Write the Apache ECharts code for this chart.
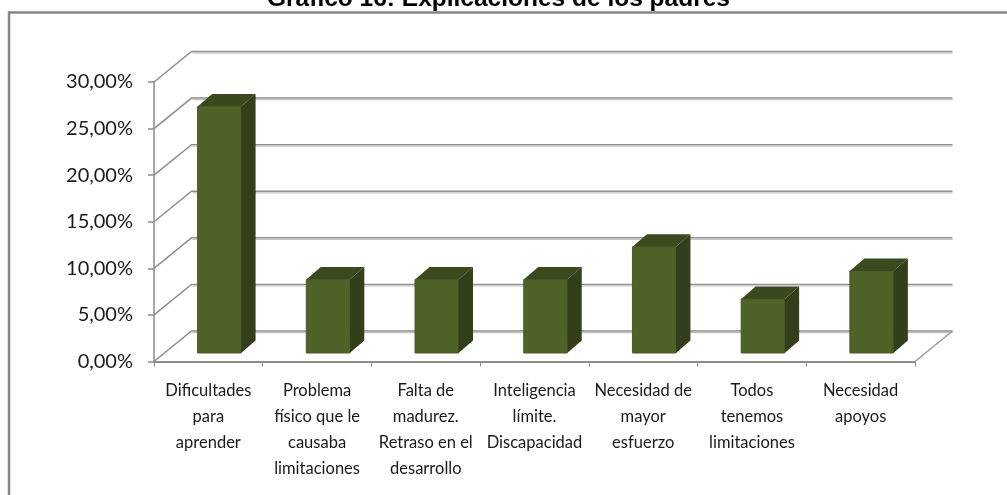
<!DOCTYPE html>
<html><head><meta charset="utf-8">
<style>html,body{margin:0;padding:0;background:#fff}#c{width:1007px;height:495px}</style>
<script src="https://cdn.jsdelivr.net/npm/echarts@6/dist/echarts.min.js"></script>
</head><body><div id="c"></div>
<script>
const categories = ['Dificultades\npara\naprender','Problema\nfísico que le\ncausaba\nlimitaciones','Falta de\nmadurez.\nRetraso en el\ndesarrollo','Inteligencia\nlímite.\nDiscapacidad','Necesidad de\nmayor\nesfuerzo','Todos\ntenemos\nlimitaciones','Necesidad\napoyos'];
const values = [26.47, 7.9, 7.9, 7.9, 11.4, 5.8, 8.8];
const wallTicks = [0,5,10,15,20,25,30];
const titleText = 'Gráfico 16: Explicaciones de los padres';

const DX = 37.5, DY = -30.5;
const chart = echarts.init(document.getElementById('c'), null, {renderer:'canvas'});
chart.setOption({
  animation:false,
  backgroundColor:'#fff',
  title:{text:titleText,left:262,top:-18,textStyle:{fontFamily:'Liberation Sans',fontWeight:'bold',fontSize:24.5,color:'#000'}},
  graphic:[{type:'polyline',shape:{points:[[9,495],[9,12.5],[1007,12.5]]},style:{fill:'none',stroke:'#868686',lineWidth:2.5},z:0}],
  grid:{left:154,right:92,top:82,bottom:133.5,containLabel:false},
  xAxis:{type:'category',data:categories,
    axisLine:{lineStyle:{color:'#8c8c8c',width:2}},
    axisTick:{show:true,length:5,lineStyle:{color:'#8c8c8c',width:1}},
    axisLabel:{interval:0,margin:16,fontFamily:'Lato',fontSize:16.5,lineHeight:26,color:'#1a1a1a',verticalAlign:'top'}},
  yAxis:{type:'value',min:0,max:30,interval:5,
    splitLine:{show:false},
    axisLine:{show:true,lineStyle:{color:'#8c8c8c',width:1.5}},
    axisTick:{show:true,length:6,lineStyle:{color:'#8c8c8c',width:1.5}},
    axisLabel:{margin:21,padding:[5,0,0,0],fontFamily:'Lato',fontSize:20,color:'#1a1a1a',formatter:v=>v.toFixed(2).replace('.',',')+'%'}},
  series:[
    {type:'custom',coordinateSystem:'cartesian2d',z:1,silent:true,
     data:wallTicks.map(v=>[0,v]),encode:{x:0,y:1},
     renderItem(params,api){
       const y=api.coord([0,api.value(1)])[1];
       const r=params.coordSys;
       const x0=r.x,x1=r.x+r.width;
       const isFloor=api.value(1)===0;
       const ch=[
         {type:'polyline',shape:{points:[[x0,y],[x0+DX,y+DY],[x1+DX,y+DY]]},style:{fill:'none',stroke:isFloor?'#8c8c8c':'#8f8f8f',lineWidth:1.5}},
         {type:'polyline',shape:{points:[[x0+DX+1,y+DY+1.6],[x1+DX,y+DY+1.6]]},style:{fill:'none',stroke:'#c4c4c4',lineWidth:1.2}}
       ];
       if(isFloor) ch.push({type:'line',shape:{x1:x1,y1:y,x2:x1+DX,y2:y+DY},style:{stroke:'#9c9c9c',lineWidth:1.5}});
       return {type:'group',children:ch};
     }},
    {type:'custom',coordinateSystem:'cartesian2d',z:3,silent:true,
     data:values.map((v,i)=>[i,v]),encode:{x:0,y:1},
     renderItem(params,api){
       const c=api.coord([api.value(0),api.value(1)]);
       const base=api.coord([api.value(0),0]);
       const band=api.size([1,0])[0];
       const w=band*0.4, d=14.5, e=12.5;
       const ox=band*0.101, oy=-8.5;
       const l=c[0]+ox-w/2, r=l+w, t=c[1]+oy, b=base[1]+oy;
       return {type:'group',children:[
         {type:'polygon',shape:{points:[[l,t],[r,t],[r,b],[l,b]]},style:{fill:'#4f6228',stroke:'#4a5c26',lineWidth:1}},
         {type:'polygon',shape:{points:[[r,t],[r+d,t-e],[r+d,b-e],[r,b]]},style:{fill:'#333f1a'}},
         {type:'polygon',shape:{points:[[l,t],[l+d,t-e],[r+d,t-e],[r,t]]},style:{fill:'#3b4a1e'}}
       ]};
     }}
  ]
});
</script></body></html>
